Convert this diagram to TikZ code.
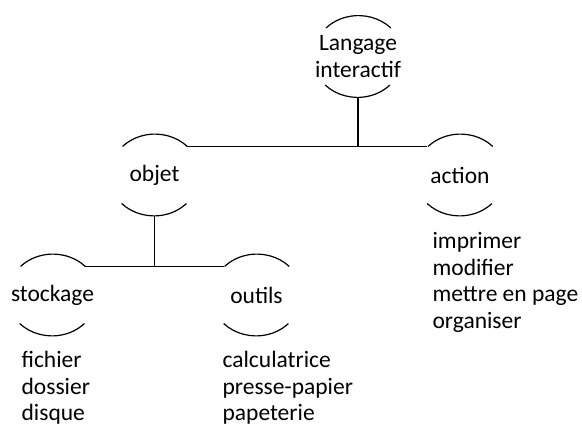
\documentclass[tikz,border=0pt]{standalone}
\usepackage{fontspec}
\setmainfont{Carlito}
\usetikzlibrary{shapes.geometric}
\tikzset{
  texte/.style={font=\fontsize{23.5}{26.5}\selectfont, inner sep=0pt},
  noeud/.style={ellipse, minimum width=90pt, minimum height=81pt, inner sep=0pt,
    label={[texte, align=center]center:#1}},
  liste/.style={texte, align=left, anchor=north west},
}
\begin{document}
\begin{tikzpicture}[x=1pt, y=1pt, line width=1.2pt]
\useasboundingbox (0,0) rectangle (582,428);
\node[noeud={Langage\\interactif}] (lang) at (358,371.5) {};
\node[noeud=objet] (objet) at (154.5,253) {};
\node[noeud=action] (action) at (460,253) {};
\node[noeud=stockage] (stockage) at (52.5,133) {};
\node[noeud=outils] (outils) at (256.5,133) {};
% arcs haut et bas
\foreach \n in {lang,objet,action,stockage,outils}{
  \draw (\n.41) arc[start angle=44, end angle=136, x radius=45pt, y radius=40.5pt];
  \draw (\n.221) arc[start angle=224, end angle=316, x radius=45pt, y radius=40.5pt];
}
% liaisons
\draw (objet.41) -- (action.139);
\draw (lang.south) -- (lang.south |- objet.41);
\draw (stockage.41) -- (outils.139);
\draw (objet.south) -- (objet.south |- stockage.41);
% listes
\node[liste] (l-action) at (432,196) {imprimer\\modifier\\mettre en page\\organiser};
\node[liste] (l-stockage) at (21,77) {fichier\\dossier\\disque};
\node[liste] (l-outils) at (222,77) {calculatrice\\presse-papier\\papeterie};
\end{tikzpicture}
\end{document}
